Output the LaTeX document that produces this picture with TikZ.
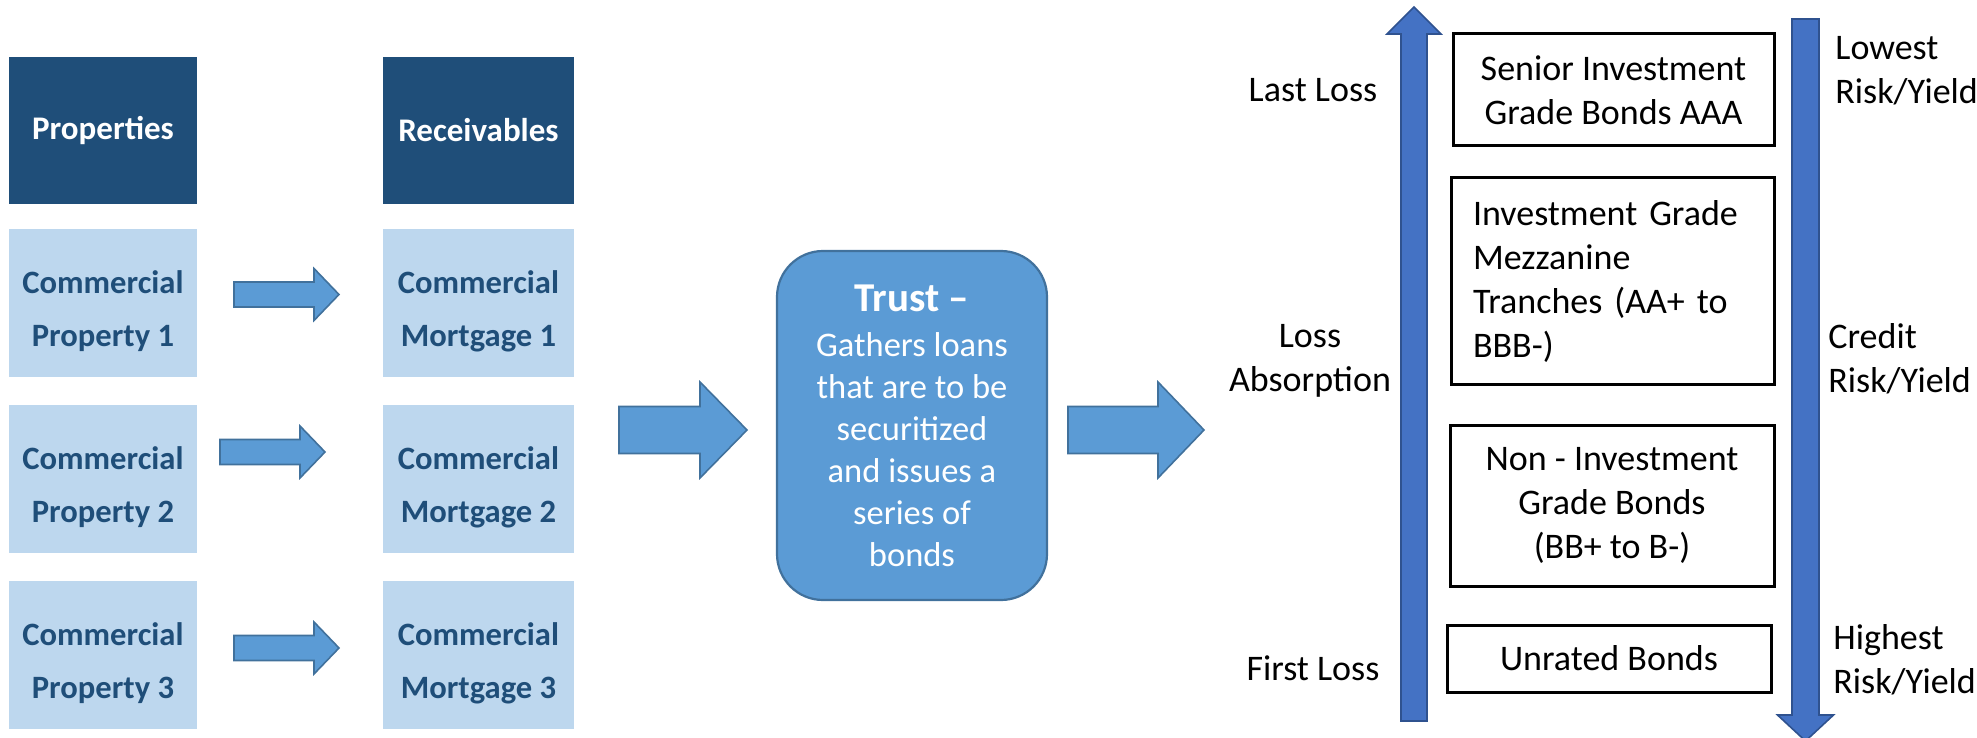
\documentclass[tikz,border=0pt]{standalone}
\usepackage{fontspec}
\setmainfont{Carlito}
\definecolor{hdrblue}{HTML}{1F4E79}
\definecolor{itemfill}{HTML}{BDD7EE}
\definecolor{flowfill}{HTML}{5B9BD5}
\definecolor{flowline}{HTML}{41719C}
\definecolor{scalefill}{HTML}{4472C4}
\definecolor{scaleline}{HTML}{2F528F}

% horizontal block arrow: style, shaft start x, head base x, tip x, centre y, shaft half, head half
\newcommand\blockarrowh[7]{%
  \draw[#1] (#2,#5-#6) -- (#3,#5-#6) -- (#3,#5-#7) -- (#4,#5)
    -- (#3,#5+#7) -- (#3,#5+#6) -- (#2,#5+#6) -- cycle;}
% vertical block arrow: style, centre x, shaft end y, head base y, tip y, shaft half, head half
\newcommand\blockarrowv[7]{%
  \draw[#1] (#2-#6,#3) -- (#2-#6,#4) -- (#2-#7,#4) -- (#2,#5)
    -- (#2+#7,#4) -- (#2+#6,#4) -- (#2+#6,#3) -- cycle;}
% taller first line, so that two-line labels sit a little lower in their boxes
\newcommand\itemstrut{\rule{0pt}{20pt}}

\begin{document}
\begin{tikzpicture}[x=0.5pt,y=-0.5pt,
  header/.style={fill=hdrblue, text=white, inner sep=0pt, align=center,
    minimum height=73.5pt,
    font=\fontsize{16.5}{22}\selectfont\bfseries},
  item/.style={fill=itemfill, text=hdrblue, inner sep=0pt, align=center,
    minimum height=74pt,
    font=\fontsize{16.3}{26.5}\selectfont\bfseries},
  flowarrow/.style={fill=flowfill, draw=flowline, line width=0.8pt, line join=miter},
  scalearrow/.style={fill=scalefill, draw=scaleline, line width=0.8pt, line join=miter},
  trustbox/.style={fill=flowfill, draw=flowline, line width=1.1pt, text=white,
    rounded corners=23pt, minimum width=135pt, minimum height=174.5pt,
    inner sep=0pt, align=center, font=\fontsize{17.25}{21}\selectfont},
  bond/.style={draw=black, line width=1.5pt, inner sep=0pt, align=center,
    font=\fontsize{18}{22}\selectfont},
  lbl/.style={inner sep=0pt, font=\fontsize{18}{22}\selectfont}]
\useasboundingbox (0,0) rectangle (1977,738);

% source columns
\node[header, minimum width=94pt]   (props) at (103,130.5) {Properties};
\node[header, minimum width=95.5pt] (recv)  at (478.5,130.5) {Receivables};
\node[item, minimum width=94pt] (p1) at (103,303) {\itemstrut Commercial\\Property 1};
\node[item, minimum width=94pt] (p2) at (103,479) {\itemstrut Commercial\\Property 2};
\node[item, minimum width=94pt] (p3) at (103,655) {\itemstrut Commercial\\Property 3};
\node[item, minimum width=95.5pt] (m1) at (478.5,303) {\itemstrut Commercial\\Mortgage 1};
\node[item, minimum width=95.5pt] (m2) at (478.5,479) {\itemstrut Commercial\\Mortgage 2};
\node[item, minimum width=95.5pt] (m3) at (478.5,655) {\itemstrut Commercial\\Mortgage 3};

\blockarrowh{flowarrow}{234}{314}{339}{294.5}{12.5}{26}
\blockarrowh{flowarrow}{220}{300}{325}{452}{12.5}{26}
\blockarrowh{flowarrow}{234}{314}{339}{648}{12.5}{26}

% trust
\blockarrowh{flowarrow}{619}{700}{747}{430}{23.5}{48}
\node[trustbox] (trust) at (912,425.5)
  {{\fontsize{20.5}{22.5}\selectfont\bfseries Trust –}\\[1.5pt]
   Gathers loans\\that are to be\\securitized\\and issues a\\series of\\bonds};
\blockarrowh{flowarrow}{1068}{1158}{1204}{430}{23.5}{48}

% tranches
\blockarrowv{scalearrow}{1414}{721}{34}{7}{13}{27}
\blockarrowv{scalearrow}{1805.5}{19}{715}{741}{13.5}{28}

\node[bond, minimum width=160.5pt, minimum height=56pt] (senior) at (1613.5,90)
  {Senior Investment\\Grade Bonds AAA};
\node[bond, minimum width=161.5pt, minimum height=103.5pt, text width=139.5pt,
  inner xsep=11pt, align=left] (mezz) at (1612.5,281)
  {Investment Grade\\Mezzanine\\Tranches (AA+ to\\BBB-)};
\node[bond, minimum width=162pt, minimum height=80.5pt] (nonig) at (1612,505.5)
  {Non - Investment\\Grade Bonds\\(BB+ to B-)};
\node[bond, minimum width=162pt, minimum height=33.5pt] (unrated) at (1609,658.5)
  {Unrated Bonds};

% loss and risk labels
\node[lbl, anchor=base] (lastloss) at (1313,102) {Last Loss};
\node[lbl, align=center] (absorb) at (1310,361) {Loss\\Absorption};
\node[lbl, anchor=base] (firstloss) at (1313,680) {First Loss};
\node[lbl, align=left, anchor=west] (lowest) at (1835,70.5) {Lowest\\Risk/Yield};
\node[lbl, align=left, anchor=west] (credit) at (1828,359) {Credit\\Risk/Yield};
\node[lbl, align=left, anchor=west] (highest) at (1833,660) {Highest\\Risk/Yield};
\end{tikzpicture}
\end{document}
